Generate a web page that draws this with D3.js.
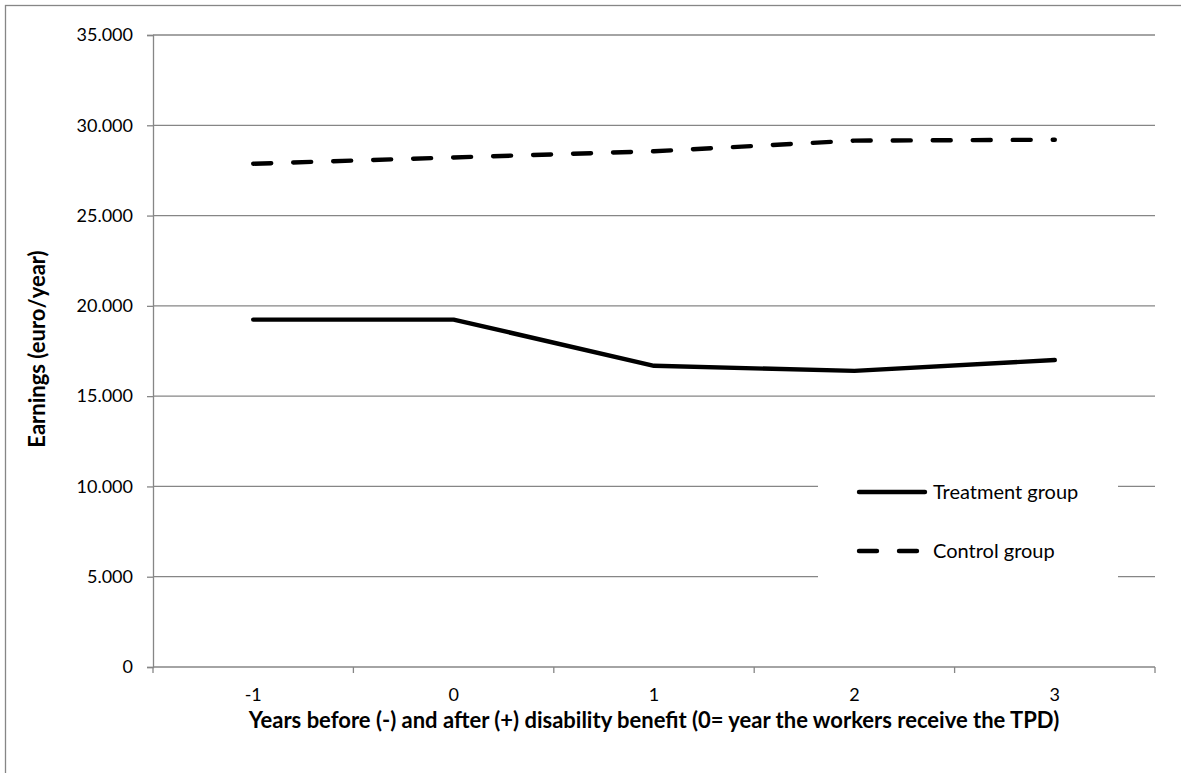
<!DOCTYPE html>
<html>
<head>
<meta charset="utf-8">
<script src="https://cdn.jsdelivr.net/npm/d3@7"></script>
<style>
  body { margin: 0; background: #fff; }
  svg { display: block; }
  text { font-family: Lato, "Open Sans", sans-serif; fill: #000; }
</style>
</head>
<body>
<svg id="chart" width="1181" height="773"></svg>
<script>
const categories = ["-1", "0", "1", "2", "3"];
const treatment = [19240, 19240, 16680, 16400, 17000];
const control = [27870, 28220, 28560, 29150, 29200];
const yTicks = [0, 5000, 10000, 15000, 20000, 25000, 30000, 35000];
const yTickLabels = ["0", "5.000", "10.000", "15.000", "20.000", "25.000", "30.000", "35.000"];
const seriesNames = ["Treatment group", "Control group"];

const svg = d3.select("#chart");
const W = 1181, H = 773;
const m = { left: 153, right: 1155, top: 35, bottom: 667 };
const grey = "#868686";

// outer chart border
svg.append("rect").attr("x", 5.5).attr("y", 5.5).attr("width", W + 20).attr("height", H + 20)
  .attr("fill", "#fff").attr("stroke", grey).attr("stroke-width", 1.3);

const x = d3.scaleBand().domain(categories).range([m.left, m.right]).padding(0);
const y = d3.scaleLinear().domain([0, 35000]).range([m.bottom, m.top]);

// gridlines
svg.append("g").selectAll("line").data(yTicks.filter(d => d > 0)).join("line")
  .attr("x1", m.left).attr("x2", m.right)
  .attr("y1", d => y(d)).attr("y2", d => y(d))
  .attr("stroke", grey).attr("stroke-width", 1.3);

// y axis
const yAxis = d3.axisLeft(y).tickValues(yTicks).tickSize(6)
  .tickFormat((d, i) => yTickLabels[i]).tickPadding(14);
const gy = svg.append("g").attr("transform", `translate(${m.left},0)`).call(yAxis);
gy.select(".domain").attr("stroke", grey).attr("stroke-width", 1.3);
gy.selectAll(".tick line").attr("stroke", grey).attr("stroke-width", 1.3);
gy.selectAll(".tick text").style("font-size", "18px").style("font-family", "Lato, sans-serif").attr("fill", "#000");

// x axis
const xAxis = d3.axisBottom(x).tickSize(0).tickPadding(18);
const gx = svg.append("g").attr("transform", `translate(0,${m.bottom})`).call(xAxis);
gx.select(".domain").attr("stroke", grey).attr("stroke-width", 1.3).attr("d", `M${m.left},0H${m.right}`);
gx.selectAll(".tick text").style("font-size", "18px").style("font-family", "Lato, sans-serif")
  .attr("fill", "#000").attr("dy", "0.35em").attr("y", 28);
// boundary tick marks
const bounds = categories.map(c => x(c)).concat([x(categories[categories.length - 1]) + x.bandwidth()]);
gx.append("g").selectAll("line").data(bounds).join("line")
  .attr("x1", d => d).attr("x2", d => d).attr("y1", 0).attr("y2", 6)
  .attr("stroke", grey).attr("stroke-width", 1.3);

// lines
const line = d3.line().x((d, i) => x(categories[i]) + x.bandwidth() / 2).y(d => y(d));
svg.append("path").datum(treatment).attr("d", line)
  .attr("fill", "none").attr("stroke", "#000").attr("stroke-width", 4.4)
  .attr("stroke-linecap", "round").attr("stroke-linejoin", "round");
svg.append("path").datum(control).attr("d", line)
  .attr("fill", "none").attr("stroke", "#000").attr("stroke-width", 4.4)
  .attr("stroke-linecap", "round").attr("stroke-linejoin", "round")
  .attr("stroke-dasharray", "18,22");

// legend
const lg = svg.append("g");
lg.append("rect").attr("x", 818).attr("y", 462).attr("width", 300).attr("height", 135).attr("fill", "#fff");
const legendY = [492, 551];
const dashes = [null, "18,22"];
seriesNames.forEach((name, i) => {
  lg.append("line").attr("x1", 859).attr("x2", 925).attr("y1", legendY[i]).attr("y2", legendY[i])
    .attr("stroke", "#000").attr("stroke-width", 4.4).attr("stroke-linecap", "round")
    .attr("stroke-dasharray", dashes[i]);
  lg.append("text").attr("x", 933).attr("y", legendY[i]).attr("dy", "0.35em")
    .style("font-size", "20px").text(name);
});

// axis titles
svg.append("text").attr("x", (m.left + m.right) / 2).attr("y", 720).attr("dy", "0.35em")
  .attr("text-anchor", "middle").style("font-size", "22px").style("font-weight", "bold")
  .text("Years before (-) and after (+) disability benefit (0= year the workers receive the TPD)");
svg.append("text").attr("transform", "translate(37,349) rotate(-90)").attr("dy", "0.35em")
  .attr("text-anchor", "middle").style("font-size", "22px").style("font-weight", "bold")
  .text("Earnings (euro/year)");
</script>
</body>
</html>
